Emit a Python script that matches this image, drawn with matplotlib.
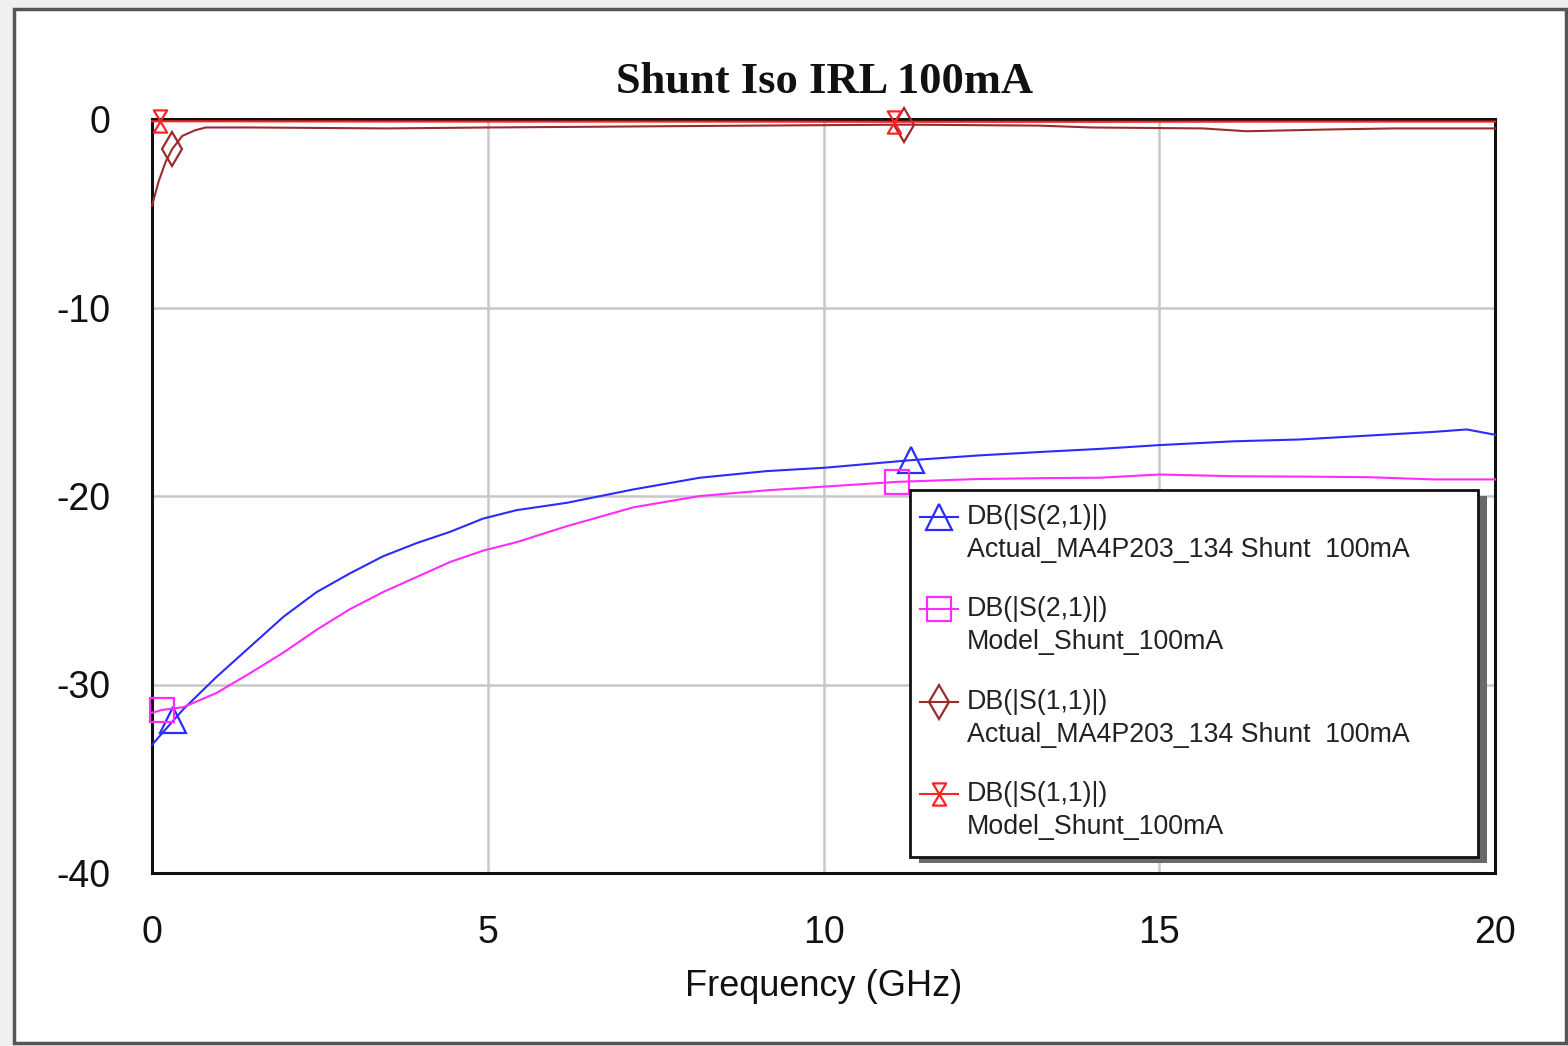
import numpy as np
import matplotlib
matplotlib.use("Agg")
import matplotlib.pyplot as plt
from matplotlib.patches import Rectangle
from matplotlib.path import Path
from matplotlib.lines import Line2D

plt.rcParams["axes.unicode_minus"] = False

# --- data (GHz, dB) ---
s21_act_f = [0, 0.32, 0.47, 0.96, 1.46, 1.96, 2.45, 2.95, 3.44, 3.94, 4.44, 4.93,
             5.43, 6.18, 7.17, 8.16, 9.15, 10.02, 11.3, 12.3, 13.3, 14.12, 15.0,
             16.1, 17.1, 18.09, 19.08, 19.58, 20.0]
s21_act_db = [-33.2, -31.9, -31.3, -29.6, -28.0, -26.4, -25.1, -24.1, -23.2, -22.5,
              -21.9, -21.2, -20.75, -20.36, -19.65, -19.03, -18.68, -18.5, -18.1,
              -17.85, -17.65, -17.5, -17.3, -17.1, -17.0, -16.8, -16.6, -16.47, -16.75]
s21_act_mk = [1, 18]

s21_mod_f = [0, 0.15, 0.47, 0.96, 1.46, 1.96, 2.45, 2.95, 3.44, 3.94, 4.44, 4.93,
             5.43, 6.18, 7.17, 8.16, 9.15, 10.02, 11.1, 12.3, 13.3, 14.12, 15.0,
             16.1, 17.1, 18.09, 19.08, 20.0]
s21_mod_db = [-31.5, -31.35, -31.2, -30.45, -29.4, -28.3, -27.1, -26.0, -25.1, -24.3,
              -23.5, -22.9, -22.45, -21.6, -20.6, -20.0, -19.7, -19.5, -19.25, -19.1,
              -19.05, -19.03, -18.86, -18.95, -18.97, -19.0, -19.12, -19.12]
s21_mod_mk = [1, 18]

s11_act_f = [0, 0.1, 0.2, 0.3, 0.45, 0.64, 0.8, 1.5, 3.5, 5.0, 7.0, 9.0, 11.2,
             13.2, 14.0, 15.65, 16.3, 17.6, 18.5, 20.0]
s11_act_db = [-4.6, -3.3, -2.3, -1.6, -0.9, -0.6, -0.45, -0.45, -0.5, -0.45, -0.4,
              -0.35, -0.3, -0.35, -0.45, -0.5, -0.65, -0.55, -0.5, -0.5]
s11_act_mk = [3, 12]

s11_mod_f = [0, 0.12, 2.0, 5.0, 8.0, 11.05, 14.0, 17.0, 20.0]
s11_mod_db = [-0.12, -0.12, -0.13, -0.14, -0.14, -0.15, -0.15, -0.14, -0.14]
s11_mod_mk = [1, 5]

legend_top = ["DB(|S(2,1)|)", "DB(|S(2,1)|)", "DB(|S(1,1)|)", "DB(|S(1,1)|)"]
legend_bot = ["Actual_MA4P203_134 Shunt  100mA", "Model_Shunt_100mA",
              "Actual_MA4P203_134 Shunt  100mA", "Model_Shunt_100mA"]

x_ticks = [0, 5, 10, 15, 20]
y_ticks = [0, -10, -20, -30, -40]

# hourglass marker
hourglass = Path([(-0.6, 1), (0.6, 1), (-0.6, -1), (0.6, -1), (-0.6, 1)],
                 [Path.MOVETO, Path.LINETO, Path.LINETO, Path.LINETO, Path.CLOSEPOLY])

series = [
    (s21_act_f, s21_act_db, s21_act_mk, "#2b2bff", "^", 19),
    (s21_mod_f, s21_mod_db, s21_mod_mk, "#ff2bff", "s", 17),
    (s11_act_f, s11_act_db, s11_act_mk, "#9a2c2c", "d", 17),
    (s11_mod_f, s11_mod_db, s11_mod_mk, "#ff2222", hourglass, 16),
]

W, H = 1568, 1046
fig = plt.figure(figsize=(W / 100, H / 100), dpi=100)
fig.patch.set_facecolor("#efefef")
fig.patches.append(Rectangle((14 / W, 1 - 1043 / H), (1566 - 14) / W, (1043 - 9) / H,
                             transform=fig.transFigure, facecolor="white",
                             edgecolor="#555555", lw=2.5, zorder=-5))

ax = fig.add_axes([152 / W, 1 - 873 / H, (1495 - 152) / W, (873 - 119) / H])
ax.set_xlim(0, 20)
ax.set_ylim(-40, 0)
ax.set_xticks(x_ticks)
ax.set_yticks(y_ticks)
ax.grid(True, color="#c8c8c8", lw=1.8)
ax.set_axisbelow(True)
for s in ax.spines.values():
    s.set_linewidth(2.2)
    s.set_color("#111111")
ax.tick_params(length=0, labelsize=27, colors="#111111")
ax.tick_params(axis="x", pad=30)
ax.tick_params(axis="y", pad=30)
for lab in ax.get_xticklabels() + ax.get_yticklabels():
    lab.set_family("Liberation Sans")

for f, v, mk, col, m, ms in series:
    ax.plot(f, v, color=col, lw=1.5, marker=m, markevery=mk, ms=ms,
            mfc="none", mec=col, mew=1.6, clip_on=False, zorder=3)

ax.set_xlabel("Frequency (GHz)", fontsize=26, family="Liberation Sans",
              color="#111111", labelpad=13)
fig.text(825 / W, 1 - 82 / H, "Shunt Iso IRL 100mA", ha="center", va="center",
         fontsize=32, family="Liberation Serif", weight="bold", color="#111111")

# legend box drawn by hand (marker beside first line of each label)
def ax_pt(px, py):
    return (px - 152) / 1343, (873 - py) / 754

x0, y0 = ax_pt(910, 857)
x1, y1 = ax_pt(1478, 490)
sx, sy = 9 / 1343, 6 / 754
ax.add_patch(Rectangle((x0 + sx, y0 - sy), x1 - x0, y1 - y0, transform=ax.transAxes,
                       facecolor="#6a6a6a", edgecolor="none", zorder=5, clip_on=False))
ax.add_patch(Rectangle((x0, y0), x1 - x0, y1 - y0, transform=ax.transAxes,
                       facecolor="white", edgecolor="#111111", lw=2, zorder=6,
                       clip_on=False))
row_y = [517, 609, 702, 794]
for (f, v, mk, col, m, ms), top, bot, ry in zip(series, legend_top, legend_bot, row_y):
    hx0, hy = ax_pt(920, ry)
    hx1, _ = ax_pt(958, ry)
    hxm, _ = ax_pt(939, ry)
    ax.add_line(Line2D([hx0, hx1], [hy, hy], transform=ax.transAxes, color=col,
                       lw=1.5, zorder=7))
    ax.add_line(Line2D([hxm], [hy], transform=ax.transAxes, color=col, marker=m,
                       ms=ms, mfc="none", mec=col, mew=1.6, zorder=7))
    tx, ty = ax_pt(967, ry)
    ax.text(tx, ty, top, transform=ax.transAxes, fontsize=19.3, va="center",
            family="Liberation Sans", color="#222222", zorder=8)
    tx, ty = ax_pt(967, ry + 33)
    ax.text(tx, ty, bot, transform=ax.transAxes, fontsize=19.3, va="center",
            family="Liberation Sans", color="#222222", zorder=8)

fig.savefig("out.png", dpi=100, facecolor=fig.get_facecolor())
